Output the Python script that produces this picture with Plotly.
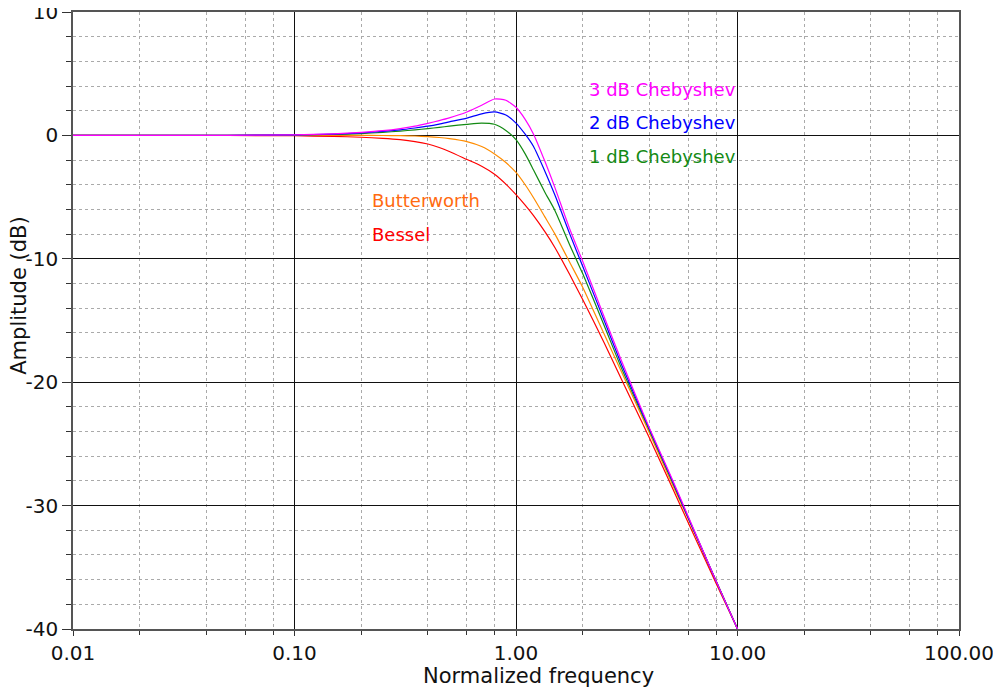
import plotly.graph_objects as go

freq = [0.01, 0.05, 0.1, 0.15, 0.2, 0.25, 0.3, 0.35, 0.4, 0.45, 0.5, 0.6, 0.7, 0.8, 0.9, 1.0, 1.1, 1.2, 1.35, 1.5, 1.75, 2.0, 2.5, 3.0, 4.0, 5.0, 6.0, 8.0, 10.0]

bessel = [0.0, -0.01, -0.03, -0.08, -0.15, -0.24, -0.35, -0.5, -0.7, -0.98, -1.3, -1.95, -2.5, -3.15, -3.95, -4.8, -5.65, -6.5, -7.8, -9.1, -11.3, -13.3, -16.8, -19.8, -24.5, -28.3, -31.4, -36.3, -40.0]
butterworth = [0.0, 0.0, 0.0, 0.0, 0.0, -0.01, -0.02, -0.05, -0.1, -0.17, -0.26, -0.5, -0.9, -1.5, -2.2, -3.0, -4.0, -5.05, -6.6, -8.0, -10.3, -12.3, -16.1, -19.2, -24.1, -28.0, -31.1, -36.1, -40.0]
cheb1 = [0.0, 0.01, 0.03, 0.08, 0.15, 0.25, 0.35, 0.45, 0.55, 0.65, 0.75, 0.9, 1.0, 0.9, 0.4, -0.35, -1.5, -2.8, -4.6, -6.1, -8.9, -11.2, -15.4, -18.9, -23.9, -27.8, -31.0, -36.1, -40.0]
cheb2 = [0.0, 0.01, 0.04, 0.1, 0.2, 0.32, 0.45, 0.6, 0.75, 0.92, 1.1, 1.4, 1.75, 1.9, 1.65, 1.0, 0.1, -0.9, -2.9, -4.85, -8.0, -10.6, -15.0, -18.6, -23.8, -27.7, -31.0, -36.1, -40.0]
cheb3 = [0.0, 0.01, 0.05, 0.13, 0.25, 0.38, 0.55, 0.75, 0.98, 1.2, 1.42, 1.9, 2.44, 2.95, 2.85, 2.28, 1.3, 0.1, -2.1, -4.25, -7.6, -10.2, -14.7, -18.3, -23.7, -27.6, -30.9, -36.1, -40.0]

series = [
    ("Bessel", bessel, "#ff0000"),
    ("Butterworth", butterworth, "#ff8c00"),
    ("1 dB Chebyshev", cheb1, "#138a13"),
    ("2 dB Chebyshev", cheb2, "#0000ff"),
    ("3 dB Chebyshev", cheb3, "#ff00ff"),
]

x_tickvals = [0.01, 0.1, 1, 10, 100]
x_ticktext = ["0.01", "0.10", "1.00", "10.00", "100.00"]
x_minor = [m * 10 ** e for e in range(-2, 2) for m in (2, 4, 6, 8)]
y_tickvals = [10, 0, -10, -20, -30, -40]
y_ticktext = ["10", "0", "-10", "-20", "-30", "-40"]

fig = go.Figure()
for name, vals, color in series:
    fig.add_trace(go.Scatter(x=freq, y=vals, mode="lines", name=name,
                             line=dict(color=color, width=1.2, shape="spline", smoothing=0.6),
                             showlegend=False))

font = "DejaVu Sans, Verdana, sans-serif"

# the page body adds an 8px margin, so the figure is sized 8px smaller
fig.update_layout(
    width=993, height=686,
    margin=dict(l=65, r=42, t=4, b=65),
    paper_bgcolor="white", plot_bgcolor="white",
    font=dict(family=font, color="#111111", size=20),
    xaxis=dict(
        type="log", range=[-2, 2], automargin=False, ticklabeloverflow="allow",
        tickmode="array", tickvals=x_tickvals, ticktext=x_ticktext,
        showgrid=True, gridcolor="#111111", gridwidth=1,
        showline=True, linecolor="#555555", linewidth=1.5, mirror=True,
        ticks="outside", ticklen=5, tickcolor="#333333",
        tickfont=dict(size=20),
        zeroline=False,
        minor=dict(tickmode="array", tickvals=x_minor, showgrid=True,
                   gridcolor="#aaaaaa", griddash="dot", gridwidth=1,
                   ticks="outside", ticklen=4, tickcolor="#333333"),
    ),
    yaxis=dict(
        range=[-40, 10], automargin=False, ticklabeloverflow="allow",
        tickmode="array", tickvals=y_tickvals, ticktext=y_ticktext,
        showgrid=True, gridcolor="#111111", gridwidth=1,
        showline=True, linecolor="#555555", linewidth=1.5, mirror=True,
        ticks="outside", ticklen=9, tickcolor="#333333",
        tickfont=dict(size=20),
        zeroline=False,
        minor=dict(dtick=2, showgrid=True,
                   gridcolor="#aaaaaa", griddash="dot", gridwidth=1,
                   ticks="outside", ticklen=5, tickcolor="#333333"),
    ),
)

labels = [
    ("3 dB Chebyshev", 1.0, 3.7, "right", "#ff00ff"),
    ("2 dB Chebyshev", 1.0, 1.05, "right", "#0000ff"),
    ("1 dB Chebyshev", 1.0, -1.7, "right", "#138a13"),
    ("Butterworth", -0.66, -5.3, "left", "#ff6a10"),
    ("Bessel", -0.66, -8.0, "left", "#ff0000"),
]
for text, lx, ly, anchor, color in labels:
    fig.add_annotation(x=lx, y=ly, xref="x", yref="y", text=text, showarrow=False,
                       xanchor=anchor, yanchor="middle",
                       font=dict(size=18, color=color, family=font))

fig.add_annotation(x=0.525, y=-0.076, xref="paper", yref="paper",
                   text="Normalized frequency", showarrow=False,
                   xanchor="center", yanchor="middle",
                   font=dict(size=21, color="#111111", family=font))
fig.add_annotation(x=-0.061, y=0.54, xref="paper", yref="paper",
                   text="Amplitude (dB)", showarrow=False, textangle=-90,
                   xanchor="center", yanchor="middle",
                   font=dict(size=21, color="#111111", family=font))

fig.write_html("out.html")
